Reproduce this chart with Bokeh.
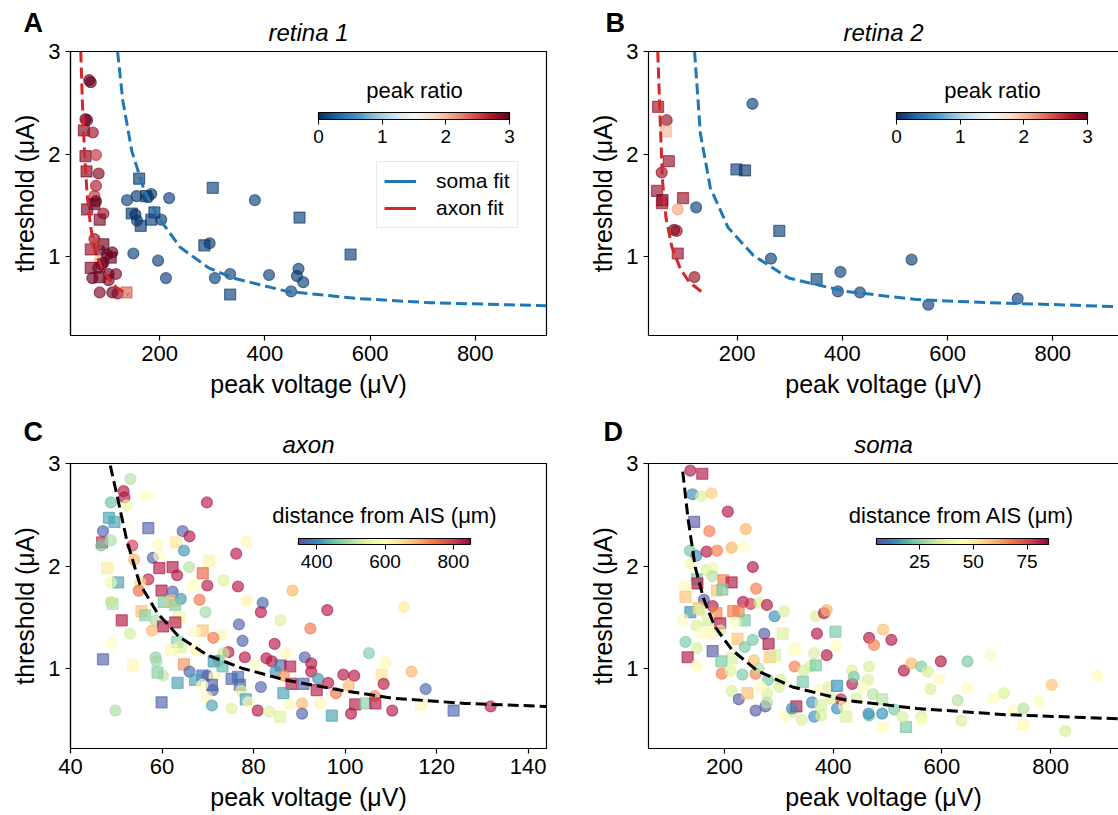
import numpy as np
from bokeh.plotting import figure
from bokeh.models import (ColumnDataSource, LinearColorMapper, ColorBar, FixedTicker,
                          Label, Legend, LegendItem, LinearAxis, Title)
from bokeh.layouts import column, row
from bokeh.embed import file_html
from bokeh.resources import INLINE
from bokeh.core.properties import field
from bokeh.transform import transform

FONT = "Liberation Sans"
SOMA_BLUE = "#1f77b4"
AXON_RED = "#d62728"

# ---------------- data: panel A (retina 1) ----------------
A_voltage = [66, 69, 59, 62, 56, 73, 59, 79, 61, 84, 79, 76, 79, 76, 62, 93, 86, 76, 69, 93,
             86, 110, 107, 86, 83, 117, 86, 103, 86, 110, 120, 137, 69, 103, 93, 72, 100, 80, 90,
             161, 156, 138, 174, 184, 178, 218, 301, 381, 147, 154, 157, 164, 190, 184, 203, 466,
             285, 295, 150, 197, 212, 305, 334, 408, 563, 464, 461, 473, 450, 334]
A_threshold = [2.72, 2.70, 2.34, 2.33, 2.23, 2.21, 1.98, 1.99, 1.83, 1.81, 1.69, 1.59, 1.54, 1.51,
               1.46, 1.42, 1.36, 1.17, 1.07, 1.12, 1.06, 1.04, 0.99, 0.96, 0.89, 0.83, 0.80, 0.77,
               0.65, 0.65, 0.64, 0.65, 0.89, 0.83, 0.94, 0.79, 1.02, 1.12, 0.92,
               1.76, 1.59, 1.55, 1.59, 1.61, 1.58, 1.57, 1.67, 1.55, 1.42, 1.41, 1.35, 1.30, 1.43,
               1.36, 1.36, 1.38, 1.11, 1.13, 1.03, 0.96, 0.79, 0.79, 0.83, 0.82, 1.02, 0.88, 0.81,
               0.75, 0.66, 0.63]
A_ratio = [3, 3, 3, 3, 2.9, 2.8, 2.9, 2.6, 2.9, 2.9, 2.7, 2.6, 3, 3, 2.9, 2.8, 2.9, 2.8, 2.8, 3,
           3, 3, 3, 2.0, 2.9, 2.9, 3, 2.9, 2.9, 3, 2.9, 2.4, 2.9, 3, 3, 3, 3, 2.5, 3,
           0.05, 0.05, 0.1, 0.0, 0.05, 0.05, 0.1, 0.1, 0.1, 0.05, 0.0, 0.05, 0.05, 0.05, 0.1, 0.05,
           0.1, 0.05, 0.05, 0.1, 0.1, 0.1, 0.1, 0.1, 0.1, 0.1, 0.1, 0.05, 0.1, 0.1, 0.1]
A_shape = list("oooosososoooossososs" "oosooosoooossoooooos"
               "oosooososo" "osssosso" "oooooosoooos" "s")
A_soma_fit_x = [120, 130, 147, 171, 198, 239, 293, 340, 442, 578, 713, 935]
A_soma_fit_y = [3.0, 2.52, 2.03, 1.64, 1.38, 1.09, 0.89, 0.79, 0.66, 0.59, 0.55, 0.52]
A_axon_fit_x = [50, 53, 57, 62, 69, 79, 96, 117, 140]
A_axon_fit_y = [3.0, 2.52, 2.03, 1.61, 1.28, 1.02, 0.83, 0.70, 0.63]

# ---------------- data: panel B (retina 2) ----------------
B_voltage = [49.7, 66, 64.6, 70, 56.5, 47.7, 57.9, 57, 97, 87, 80.2, 85, 87, 118.8,
             229, 198.6, 214.9, 122, 280, 264.3, 351, 396.3, 391.5, 433.5, 531.6, 563.4, 733.3]
B_threshold = [2.46, 2.33, 2.22, 1.93, 1.82, 1.64, 1.55, 1.52, 1.57, 1.46, 1.26, 1.25, 1.03, 0.80,
               2.49, 1.85, 1.84, 1.48, 1.25, 0.98, 0.78, 0.85, 0.66, 0.65, 0.97, 0.53, 0.59]
B_ratio = [2.8, 2.8, 2.0, 2.8, 2.8, 2.8, 3, 2.8, 2.8, 2.1, 3, 2.8, 2.8, 2.8,
           0.1, 0.1, 0.05, 0.1, 0.1, 0.1, 0.1, 0.1, 0.1, 0.1, 0.1, 0.1, 0.1]
B_shape = list("sossossssoooso" "ossososoooooo")
B_soma_fit_x = [119, 130, 149, 183, 231, 298, 406, 542, 677, 813, 925]
B_soma_fit_y = [3.0, 2.2, 1.67, 1.28, 1.01, 0.79, 0.66, 0.58, 0.55, 0.53, 0.51]
B_axon_fit_x = [49, 54.5, 58, 64.6, 76, 92, 109, 139]
B_axon_fit_y = [3.0, 2.2, 1.74, 1.38, 1.09, 0.88, 0.75, 0.63]

# ---------------- data: panel C (axon) ----------------
C_voltage = [53.1, 51.6, 51.8, 56.5, 69.8, 48.8, 52.3, 48.4, 49.6, 47.1,
             64.5, 57.0, 66.0, 46.9, 46.7, 48.8, 59.1, 63.1, 78.4, 53.5,
             64.8, 58.0, 59.4, 76.2, 53.9, 48.0, 59.4, 62.3, 63.3, 65.9,
             70.3, 68.9, 69.9, 76.6, 73.4, 66.8, 50.4, 48.8, 57.0, 55.2,
             59.9, 54.9, 62.3, 88.5, 48.8, 49.2, 60.4, 62.3, 64.1, 68.2,
             78.5, 82.0, 81.6, 96.1, 112.9, 62.9, 55.5, 56.3, 63.7, 51.2,
             53.0, 69.5, 58.6, 60.2, 62.9, 85.9, 57.8, 68.9, 76.8, 92.4,
             73.0, 71.2, 49.0, 77.6, 84.6, 63.3, 64.1, 62.0, 67.4, 58.6,
             58.8, 47.1, 53.7, 64.8, 74.5, 78.1, 73.4, 72.4, 71.3, 82.8,
             84.0, 87.1, 91.2, 92.6, 80.5, 105.2, 108.8, 85.9, 88.0, 84.8,
             86.6, 99.6, 102.0, 114.5, 108.0, 92.6, 94.1, 90.9, 88.3, 96.3,
             100.8, 108.4, 117.6, 93.8, 98.0, 106.5, 66.0, 68.8, 67.2, 69.9,
             73.2, 71.5, 70.9, 71.1, 63.4, 60.2, 68.8, 75.2, 76.6, 77.0,
             81.6, 77.3, 86.5, 78.3, 78.9, 69.8, 70.9, 75.2, 80.9, 83.4,
             85.8, 87.9, 90.6, 90.6, 94.5, 97.1, 101.3, 102.2, 104.5, 106.6,
             110.3, 116.6, 123.7, 131.8, 49.8, 59.9, 59.0, 67.2]
C_threshold = [2.85, 2.73, 2.67, 2.69, 2.62, 2.62, 2.59, 2.47, 2.43, 2.34,
               2.34, 2.37, 2.29, 2.23, 2.20, 2.25, 2.21, 2.23, 2.24, 2.20,
               2.15, 2.08, 2.10, 2.12, 2.06, 1.98, 1.98, 1.99, 1.91, 1.99,
               2.05, 1.93, 1.81, 1.80, 1.86, 1.81, 1.84, 1.84, 1.87, 1.84,
               1.76, 1.76, 1.75, 1.76, 1.65, 1.63, 1.65, 1.66, 1.68, 1.67,
               1.66, 1.64, 1.55, 1.57, 1.60, 1.62, 1.56, 1.52, 1.50, 1.47,
               1.34, 1.55, 1.47, 1.41, 1.45, 1.47, 1.37, 1.37, 1.43, 1.39,
               1.33, 1.30, 1.25, 1.27, 1.24, 1.26, 1.21, 1.18, 1.18, 1.11,
               1.07, 1.09, 1.03, 1.04, 1.16, 1.11, 1.15, 1.08, 1.07, 1.10,
               1.07, 1.15, 1.11, 1.05, 1.03, 1.15, 1.06, 1.03, 1.02, 0.97,
               0.93, 0.94, 0.93, 0.97, 0.94, 0.97, 0.90, 0.85, 0.85, 0.86,
               0.83, 0.85, 0.80, 0.79, 0.76, 0.73, 0.97, 0.93, 0.89, 0.93,
               1.02, 0.92, 0.84, 0.79, 0.86, 0.93, 0.84, 0.90, 0.92, 0.84,
               0.82, 0.78, 0.76, 0.70, 0.67, 0.72, 0.64, 0.61, 0.59, 0.58,
               0.53, 0.65, 0.66, 0.56, 0.66, 0.54, 0.56, 0.65, 0.66, 0.66,
               0.59, 0.65, 0.59, 0.63, 0.59, 0.67, 0.96, 1.36]
C_distance = [510, 830, 830, 600, 830, 450, 560, 420, 420, 365,
              365, 365, 830, 820, 460, 500, 590, 640, 610, 800,
              410, 365, 600, 830, 690, 630, 830, 830, 830, 510,
              620, 760, 830, 830, 540, 600, 420, 570, 820, 650,
              830, 750, 365, 690, 520, 510, 460, 680, 410, 740,
              620, 370, 830, 830, 630, 470, 680, 470, 560, 830,
              530, 490, 500, 830, 830, 540, 690, 680, 365, 740,
              610, 740, 600, 365, 830, 470, 540, 610, 620, 480,
              490, 365, 610, 720, 830, 830, 520, 470, 410, 830,
              830, 610, 365, 830, 600, 470, 610, 370, 830, 410,
              720, 830, 830, 690, 640, 830, 410, 365, 830, 830,
              690, 830, 370, 830, 740, 730, 370, 365, 420, 365,
              440, 610, 365, 365, 420, 520, 600, 365, 380, 365,
              365, 540, 420, 420, 610, 610, 420, 540, 830, 540,
              540, 610, 690, 365, 610, 420, 830, 830, 470, 830,
              830, 610, 370, 830, 500, 365, 470, 600]
C_shape = list("ooooooosso" "ososooosoo" "ooooosssoo" "ssooossooo" "soooosssoo"
               "ooooosssss" "ooossoosoo" "ooooosssoo" "osssooooso" "ooooooosso"
               "oooosoosso" "ooosooosso" "sososoosss" "oossoooooo" "soooososss"
               "ossoosso")
C_fit_x = [48.7, 50.4, 52.3, 55.1, 59, 63.7, 69.9, 77.7, 87.1, 98.8, 110.5, 126.2, 144]
C_fit_y = [2.98, 2.64, 2.25, 1.83, 1.54, 1.31, 1.13, 1.0, 0.886, 0.79, 0.71, 0.66, 0.63]

# ---------------- data: panel D (soma) ----------------
D_voltage = [137, 159, 141, 157, 176, 206, 144, 172, 239, 136,
             148, 167, 186, 213, 235, 138, 252, 167, 178, 149,
             150, 178, 198, 213, 186, 196, 128, 128, 258, 162,
             178, 234, 248, 265, 278, 137, 152, 154, 185, 216,
             226, 292, 309, 123, 148, 169, 192, 237, 220, 368,
             383, 388, 273, 307, 159, 370, 404, 492, 466, 507,
             475, 128, 252, 224, 237, 281, 149, 178, 132, 149,
             214, 194, 283, 293, 329, 388, 405, 365, 254, 358,
             368, 195, 233, 257, 263, 329, 303, 345, 466, 435,
             530, 544, 562, 598, 647, 690, 574, 595, 886, 802,
             647, 579, 213, 226, 242, 257, 275, 278, 278, 312,
             326, 332, 324, 342, 344, 373, 391, 407, 435, 438,
             464, 455, 361, 377, 407, 365, 378, 424, 414, 420,
             466, 465, 490, 512, 473, 490, 492, 534, 562, 564,
             527, 629, 636, 695, 714, 732, 750, 750, 778, 827,
             192, 174, 211, 280, 301, 396, 443, 267]
D_threshold = [2.93, 2.90, 2.70, 2.68, 2.71, 2.53, 2.43, 2.34, 2.36, 2.15,
               2.10, 2.14, 2.15, 2.18, 2.19, 2.02, 1.99, 1.96, 1.98, 1.87,
               1.83, 1.90, 1.86, 1.84, 1.76, 1.77, 1.80, 1.70, 1.78, 1.67,
               1.61, 1.65, 1.63, 1.64, 1.62, 1.55, 1.59, 1.57, 1.54, 1.56,
               1.56, 1.51, 1.56, 1.48, 1.42, 1.47, 1.44, 1.47, 1.45, 1.51,
               1.54, 1.57, 1.34, 1.34, 1.35, 1.34, 1.36, 1.38, 1.30, 1.28,
               1.23, 1.26, 1.28, 1.29, 1.21, 1.24, 1.20, 1.17, 1.11, 1.03,
               1.10, 1.07, 1.11, 1.13, 1.19, 1.13, 1.22, 1.15, 1.08, 1.02,
               1.03, 0.95, 0.94, 0.95, 1.00, 1.02, 0.89, 0.98, 1.02, 0.98,
               0.98, 1.05, 1.02, 1.07, 1.07, 1.13, 0.97, 0.90, 0.93, 0.84,
               0.81, 0.80, 0.78, 0.70, 0.76, 0.59, 0.63, 0.76, 0.67, 0.54,
               0.58, 0.63, 0.61, 0.50, 0.87, 0.79, 0.82, 0.83, 0.85, 0.92,
               0.89, 0.82, 0.67, 0.64, 0.61, 0.53, 0.54, 0.53, 0.70, 0.64,
               0.54, 0.56, 0.56, 0.60, 0.75, 0.70, 0.43, 0.43, 0.53, 0.50,
               0.53, 0.69, 0.49, 0.71, 0.76, 0.59, 0.61, 0.45, 0.68, 0.39,
               1.37, 1.34, 0.98, 0.89, 0.82, 0.71, 0.71, 0.82]
D_distance = [82, 82, 14, 35, 56, 82, 7, 67, 60, 23,
              14, 82, 67, 60, 45, 40, 82, 36, 40, 23,
              82, 30, 67, 82, 58, 23, 46, 58, 67, 7,
              82, 82, 78, 36, 82, 14, 58, 35, 67, 67,
              67, 14, 35, 46, 35, 35, 82, 23, 46, 35,
              82, 60, 7, 35, 46, 82, 23, 58, 82, 82,
              67, 23, 23, 58, 23, 82, 35, 7, 82, 46,
              35, 23, 58, 35, 46, 82, 46, 35, 58, 35,
              23, 67, 23, 67, 30, 67, 35, 35, 35, 35,
              82, 60, 23, 82, 23, 46, 35, 46, 46, 58,
              46, 35, 35, 7, 58, 7, 7, 35, 30, 46,
              35, 82, 14, 35, 23, 46, 35, 14, 82, 23,
              35, 46, 14, 35, 14, 14, 35, 35, 80, 46,
              23, 14, 14, 23, 30, 30, 46, 23, 35, 46,
              35, 30, 35, 46, 36, 46, 30, 46, 46, 35,
              35, 46, 36, 23, 35, 35, 35, 46]
D_shape = list("osoooosooo" "ooooooooos" "sossssssoo" "ooooossoss" "soooosssoo"
               "ooossosooo" "ooosososso" "sssssooooo" "sooooooooo" "oooooooooo"
               "oooosooooo" "osoosoosoo" "ooosooosoo" "ooooososoo" "ooooooosoo"
               "oooooooo")
D_fit_x = [123, 133, 146, 162, 182, 214, 260, 325, 424, 554, 717, 925]
D_fit_y = [2.92, 2.45, 1.99, 1.67, 1.41, 1.18, 0.98, 0.82, 0.69, 0.61, 0.55, 0.51]

Y_TICKS = [1, 2, 3]
V_TICKS = [200, 400, 600, 800]
C_TICKS = [40, 60, 80, 100, 120, 140]
RATIO_TICKS = [0, 1, 2, 3]
C_CB_TICKS = [400, 600, 800]
D_CB_TICKS = [25, 50, 75]


def interp_palette(anchors, n=256):
    rgb = np.array([[int(h[i:i + 2], 16) for i in (1, 3, 5)] for h in anchors], float)
    t = np.linspace(0, 1, len(anchors))
    tt = np.linspace(0, 1, n)
    out = np.stack([np.interp(tt, t, rgb[:, k]) for k in range(3)], 1)
    return ["#%02x%02x%02x" % tuple(int(round(v)) for v in c) for c in out]


RDBU_R = interp_palette(['#053061', '#2166ac', '#4393c3', '#92c5de', '#d1e5f0', '#f7f7f7',
                         '#fddbc7', '#f4a582', '#d6604d', '#b2182b', '#67001f'])
SPECTRAL_R = interp_palette(['#5e4fa2', '#3288bd', '#66c2a5', '#abdda4', '#e6f598', '#ffffbf',
                             '#fee08b', '#fdae61', '#f46d43', '#d53e4f', '#9e0142'])


def make_fig(width, height, xr, yr, left, right, top, bottom, xticks, full_frame,
             title, letter, letter_offset, spacer_standoff, title_standoff):
    p = figure(width=width, height=height, x_range=xr, y_range=yr, title=None,
               output_backend="svg", toolbar_location=None,
               min_border_left=left, min_border_right=right,
               min_border_top=top, min_border_bottom=bottom)
    p.xgrid.visible = False
    p.ygrid.visible = False
    p.background_fill_color = "white"
    p.border_fill_color = "white"
    p.xaxis.ticker = FixedTicker(ticks=xticks)
    p.yaxis.ticker = FixedTicker(ticks=Y_TICKS)
    p.xaxis.axis_label = "peak voltage (μV)"
    p.yaxis.axis_label = "threshold (μA)"
    for ax in (p.xaxis[0], p.yaxis[0]):
        ax.major_tick_in = 0
        ax.major_tick_out = 5
        ax.major_tick_line_color = "black"
        ax.major_tick_line_width = 1.2
        ax.minor_tick_line_color = None
        ax.axis_line_color = "black"
        ax.axis_line_width = 1.2
        ax.major_label_text_font = FONT
        ax.major_label_text_font_size = "22px"
        ax.major_label_text_color = "black"
        ax.major_label_standoff = 5
        ax.axis_label_text_font = FONT
        ax.axis_label_text_font_size = "25px"
        ax.axis_label_text_font_style = "normal"
        ax.axis_label_text_color = "black"
        ax.axis_label_standoff = 6
    if full_frame:
        p.outline_line_color = "black"
        p.outline_line_width = 1.2
    else:
        # open right side: draw only the top spine
        p.outline_line_color = None
        top_ax = LinearAxis(ticker=FixedTicker(ticks=[]), axis_line_color="black",
                            axis_line_width=1.2, major_tick_line_color=None,
                            minor_tick_line_color=None, major_label_text_font_size="0px")
        p.add_layout(top_ax, "above")
    # blank spacer so the title can sit over the letter's row
    p.add_layout(Title(text=" ", text_font=FONT, text_font_size="10px",
                       standoff=spacer_standoff), "above")
    p.add_layout(Title(text=title, align="center", text_font=FONT, text_font_size="24px",
                       text_font_style="italic", text_color="black",
                       standoff=title_standoff), "above")
    p.add_layout(Title(text=letter, align="left", offset=letter_offset, text_font=FONT,
                       text_font_size="27px", text_font_style="bold", text_color="black",
                       standoff=-28), "above")
    return p


def add_points(p, xs, ys, vals, shapes, mapper, alpha):
    src = ColumnDataSource(data=dict(x=xs, y=ys, v=vals,
                                     marker=["circle" if s == "o" else "square" for s in shapes]))
    c = transform("v", mapper)
    p.scatter(x="x", y="y", source=src, marker=field("marker"), size=11,
              fill_color=c, line_color=c, fill_alpha=alpha, line_alpha=alpha, line_width=1.2)


def add_text(p, x, y, text, size, style="normal", align="left"):
    p.add_layout(Label(x=x, y=y, x_units="screen", y_units="screen", text=text,
                       text_font=FONT, text_font_size=size, text_font_style=style,
                       text_align=align, text_baseline="alphabetic", text_color="black"))


def add_colorbar(p, mapper, ticks, x, y, length, thick):
    cb = ColorBar(color_mapper=mapper, orientation="horizontal", width=length, height=thick,
                  location=(x, y), padding=0, ticker=FixedTicker(ticks=ticks),
                  major_label_text_font=FONT, major_label_text_font_size="19px",
                  major_label_text_color="black",
                  major_tick_in=0, major_tick_out=5, major_tick_line_color="black",
                  minor_tick_line_color=None, bar_line_color="black", bar_line_width=1.2,
                  label_standoff=5, background_fill_alpha=0, border_line_color=None)
    p.add_layout(cb)


ratio_mapper = LinearColorMapper(palette=RDBU_R, low=0, high=3)
axon_mapper = LinearColorMapper(palette=SPECTRAL_R, low=347, high=850)
soma_mapper = LinearColorMapper(palette=SPECTRAL_R, low=5, high=85)

DASH = "11 5"
NO_POINT = [np.nan]

# ---- panel A ----
pA = make_fig(580, 400, (30.5, 935.5), (0.23, 3), 70, 34, 51, 65, V_TICKS, True,
              "retina 1", "A", -47, 0, -14)
add_points(pA, A_voltage, A_threshold, A_ratio, A_shape, ratio_mapper, 0.65)
pA.line(A_soma_fit_x, A_soma_fit_y, line_color=SOMA_BLUE, line_width=3, line_dash=DASH)
pA.line(A_axon_fit_x, A_axon_fit_y, line_color=AXON_RED, line_width=3, line_dash=DASH)
leg_s = pA.line(x=NO_POINT, y=NO_POINT, line_color=SOMA_BLUE, line_width=3)
leg_a = pA.line(x=NO_POINT, y=NO_POINT, line_color=AXON_RED, line_width=3)
legend = Legend(items=[LegendItem(label="soma fit", renderers=[leg_s]),
                       LegendItem(label="axon fit", renderers=[leg_a])],
                location=(306, 107), label_text_font=FONT, label_text_font_size="21px",
                label_text_color="black", glyph_width=32, glyph_height=20, label_height=20,
                label_standoff=20, padding=7, spacing=3, border_line_color="#d6d6d6",
                border_line_width=1.2, background_fill_alpha=0.85, margin=0)
pA.add_layout(legend)
add_colorbar(pA, ratio_mapper, RATIO_TICKS, 248, 190, 191, 7)
add_text(pA, 344, 245, "peak ratio", "22px", align="center")

# ---- panel B ----
pB = make_fig(538, 400, (31.4, 925), (0.23, 3), 68, 0, 51, 65, V_TICKS, False,
              "retina 2", "B", -43, 0, -14)
add_points(pB, B_voltage, B_threshold, B_ratio, B_shape, ratio_mapper, 0.65)
pB.line(B_soma_fit_x, B_soma_fit_y, line_color=SOMA_BLUE, line_width=3, line_dash=DASH)
pB.line(B_axon_fit_x, B_axon_fit_y, line_color=AXON_RED, line_width=3, line_dash=DASH)
add_colorbar(pB, ratio_mapper, RATIO_TICKS, 248, 190, 191, 7)
add_text(pB, 344, 245, "peak ratio", "22px", align="center")

# ---- panel C ----
pC = make_fig(580, 415, (40, 144), (0.22, 3), 70, 34, 63, 67, C_TICKS, True,
              "axon", "C", -47, -3, -8)
add_points(pC, C_voltage, C_threshold, C_distance, C_shape, axon_mapper, 0.65)
pC.line(C_fit_x, C_fit_y, line_color="black", line_width=3, line_dash=DASH)
add_colorbar(pC, axon_mapper, C_CB_TICKS, 228, 178, 172, 6)
add_text(pC, 314.5, 233, "distance from AIS (μm)", "22px", align="center")

# ---- panel D ----
pD = make_fig(538, 415, (60, 925), (0.22, 3), 68, 0, 63, 67, V_TICKS, False,
              "soma", "D", -45, -3, -8)
add_points(pD, D_voltage, D_threshold, D_distance, D_shape, soma_mapper, 0.65)
pD.line(D_fit_x, D_fit_y, line_color="black", line_width=3, line_dash=DASH)
add_colorbar(pD, soma_mapper, D_CB_TICKS, 228, 178, 172, 6)
add_text(pD, 313, 233, "distance from AIS (μm)", "22px", align="center")

layout = column(row(pA, pB), row(pC, pD))
open("out.html", "w").write(file_html(layout, INLINE))
